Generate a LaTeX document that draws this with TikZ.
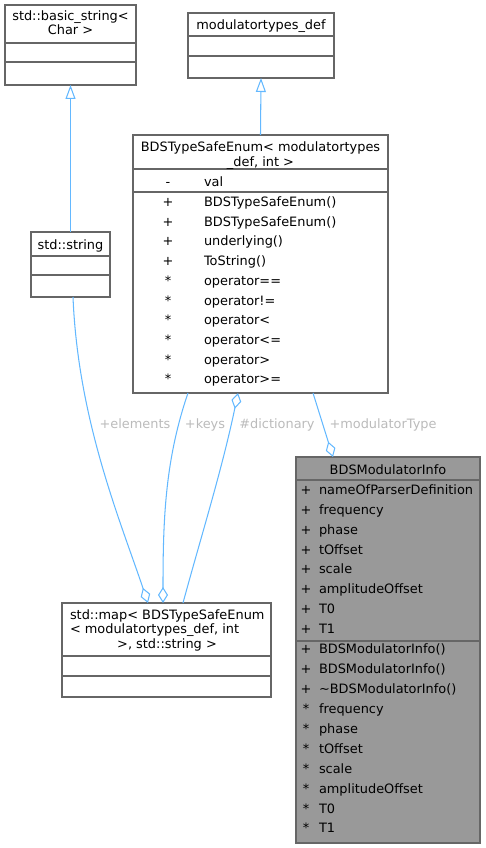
\documentclass[tikz,border=0pt]{standalone}
\usepackage{fontspec}
\setmainfont{DejaVu Sans}
\usetikzlibrary{arrows.meta,calc}
\definecolor{boxline}{HTML}{666666}
\definecolor{edgeblue}{HTML}{63B8FF}
\definecolor{lblgray}{HTML}{BBBBBB}
\definecolor{infofill}{HTML}{999999}
\begin{document}
\begin{tikzpicture}[x=1pt,y=-1pt,
  every node/.style={font=\fontsize{12.9}{14.5}\selectfont, inner sep=0pt, outer sep=0pt},
  box/.style={draw=boxline, line width=1.1pt, anchor=north west, rectangle},
  sepline/.style={draw=boxline, line width=1.1pt},
  txt/.style={anchor=base, text=black},
  txtl/.style={anchor=base west, text=black},
  edge/.style={draw=edgeblue, line width=1.05pt},
  lbl/.style={anchor=base, text=lblgray},
  inh/.style={-{Triangle[open,length=14pt,width=10pt]}},
  aggend/.style={-{Diamond[open,length=16pt,width=10pt]}},
  aggstart/.style={{Diamond[open,length=16pt,width=10pt]}-}
]
\useasboundingbox (0,0) rectangle (485,848);

% std::basic_string< Char >
\node[box, minimum width=131pt, minimum height=80pt] (bstr) at (5,5) {};
\draw[sepline] (5,43) -- (136,43);
\draw[sepline] (5,62) -- (136,62);
\node[txt] (bstrt1) at (70.5,20.5) {std::basic\_string<};
\node[txt] (bstrt2) at (70.5,35) {Char >};

% modulatortypes_def
\node[box, minimum width=146pt, minimum height=65pt] (mdef) at (188,13) {};
\draw[sepline] (188,36) -- (334,36);
\draw[sepline] (188,56) -- (334,56);
\node[txt] (mdeft) at (261,29.5) {modulatortypes\_def};

% std::string
\node[box, minimum width=79pt, minimum height=65pt] (str) at (31,232) {};
\draw[sepline] (31,256) -- (110,256);
\draw[sepline] (31,275) -- (110,275);
\node[txt] (strt) at (70.5,249) {std::string};

% BDSTypeSafeEnum
\node[box, minimum width=255pt, minimum height=258pt] (tse) at (133,135) {};
\draw[sepline] (133,169) -- (388,169);
\draw[sepline] (133,192) -- (388,192);
\node[txt] (tset1) at (260.5,151.5) {BDSTypeSafeEnum< modulatortypes};
\node[txt] (tset2) at (260.5,166) {\_def, int >};
\node[txt] (tsev1) at (168,186) {-};
\node[txtl] (tsev2) at (204,186) {val};
\foreach \s/\m [count=\i from 0] in {+/BDSTypeSafeEnum(), +/BDSTypeSafeEnum(), +/underlying(), +/ToString(),
  */operator==, */operator!=, */operator<, */operator<=, */operator>, */operator>=}{
  \node[txt] (tses\i) at (168,206.5+19.7*\i) {\s};
  \node[txtl] (tsem\i) at (204,206.5+19.7*\i) {\m};
}

% BDSModulatorInfo
\node[box, fill=infofill, minimum width=184pt, minimum height=386pt] (info) at (296,457) {};
\draw[sepline] (296,480) -- (480,480);
\draw[sepline] (296,641) -- (480,641);
\node[txt] (infot) at (388,474) {BDSModulatorInfo};
\foreach \s/\m [count=\i from 0] in {+/nameOfParserDefinition, +/frequency, +/phase, +/tOffset, +/scale,
  +/amplitudeOffset, +/T0, +/T1, +/BDSModulatorInfo(), +/BDSModulatorInfo(), +/\textasciitilde BDSModulatorInfo(),
  */frequency, */phase, */tOffset, */scale, */amplitudeOffset, */T0, */T1}{
  \node[txt] (infos\i) at (306,494.3+19.92*\i) {\s};
  \node[txtl] (infom\i) at (319,494.3+19.92*\i) {\m};
}

% std::map
\node[box, minimum width=209pt, minimum height=94pt] (map) at (62,603) {};
\draw[sepline] (62,656) -- (271,656);
\draw[sepline] (62,676) -- (271,676);
\node[txtl] (mapt1) at (70,619) {std::map< BDSTypeSafeEnum};
\node[txtl] (mapt2) at (70,633.5) {< modulatortypes\_def, int};
\node[txt] (mapt3) at (167,648) {>, std::string >};

% inheritance
\draw[edge, inh] (str.north) -- (bstr.south);
\draw[edge, inh] (tse.north) -- (mdef.south);

% associations
\draw[edge, aggend] ([xshift=2.5pt]str.south) .. controls (78,420) and (120,520) .. ([xshift=-18.5pt]map.north);
\draw[edge, aggend] ([xshift=-72.5pt]tse.south) .. controls (165,460) and (163,520) .. ([xshift=-3.5pt]map.north);
\draw[edge, aggstart] ([xshift=-22.5pt]tse.south) .. controls (222,470) and (200,540) .. ([xshift=16.5pt]map.north);
\draw[edge, aggend] ([xshift=52.5pt]tse.south) -- ([xshift=-55pt]info.north);

% labels
\node[lbl] (lelem) at (135,428.5) {+elements};
\node[lbl] (lkeys) at (205,428.5) {+keys};
\node[lbl] (ldict) at (277,428.5) {\#dictionary};
\node[lbl] (lmod) at (383,428.5) {+modulatorType};
\end{tikzpicture}
\end{document}
